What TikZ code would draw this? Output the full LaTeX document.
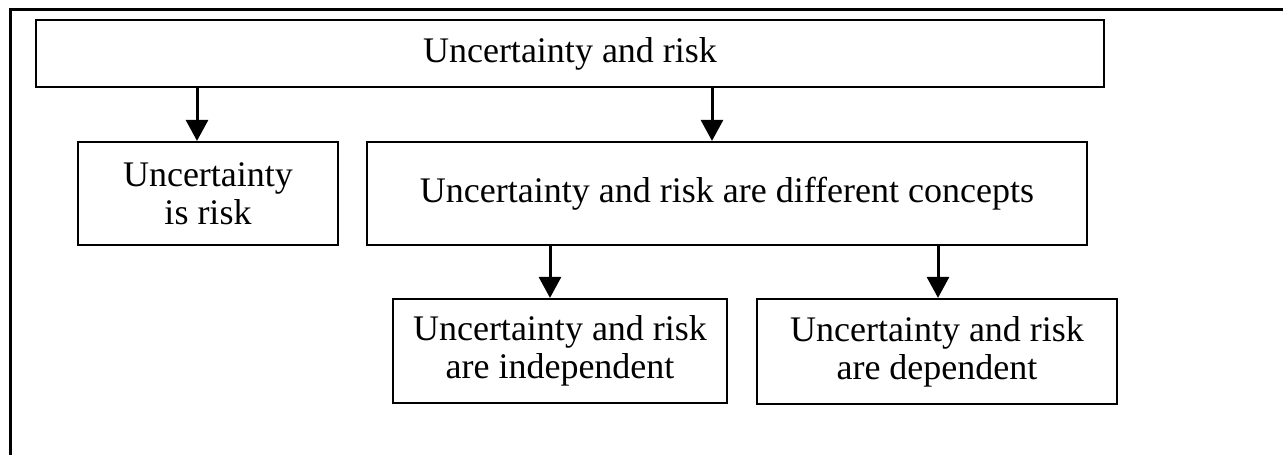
\documentclass[tikz,border=0pt]{standalone}
\usepackage{fontspec}
\setmainfont{Liberation Serif}
\usetikzlibrary{arrows.meta}
\begin{document}
\begin{tikzpicture}[x=1pt,y=-1pt,
  box/.style={draw=black,line width=2.2pt,rectangle,align=center,inner sep=0pt,
    font=\fontsize{36}{38}\selectfont},
  arr/.style={line width=3pt,-{Triangle[width=22pt,length=21pt]}}]
\useasboundingbox (0,0) rectangle (1283,455);
\draw[line width=3pt] (10,455) -- (10,9) -- (1283,9);
\node[box,minimum width=1068pt,minimum height=67pt] (top) at (570,53.5) {Uncertainty and risk};
\node[box,minimum width=260pt,minimum height=103pt] (left) at (208,193.5) {Uncertainty\\is risk};
\node[box,minimum width=720pt,minimum height=103pt] (mid) at (727,193.5) {Uncertainty and risk are different concepts};
\node[box,minimum width=334pt,minimum height=104pt] (ind) at (560,351) {Uncertainty and risk\\are independent};
\node[box,minimum width=360pt,minimum height=105pt] (dep) at (937,351.5) {Uncertainty and risk\\are dependent};
\coordinate (a1) at (197,0);
\coordinate (a2) at (712,0);
\coordinate (a3) at (550,0);
\coordinate (a4) at (938,0);
\draw[arr] (a1 |- top.south) -- (a1 |- left.north);
\draw[arr] (a2 |- top.south) -- (a2 |- mid.north);
\draw[arr] (a3 |- mid.south) -- (a3 |- ind.north);
\draw[arr] (a4 |- mid.south) -- (a4 |- dep.north);
\end{tikzpicture}
\end{document}
